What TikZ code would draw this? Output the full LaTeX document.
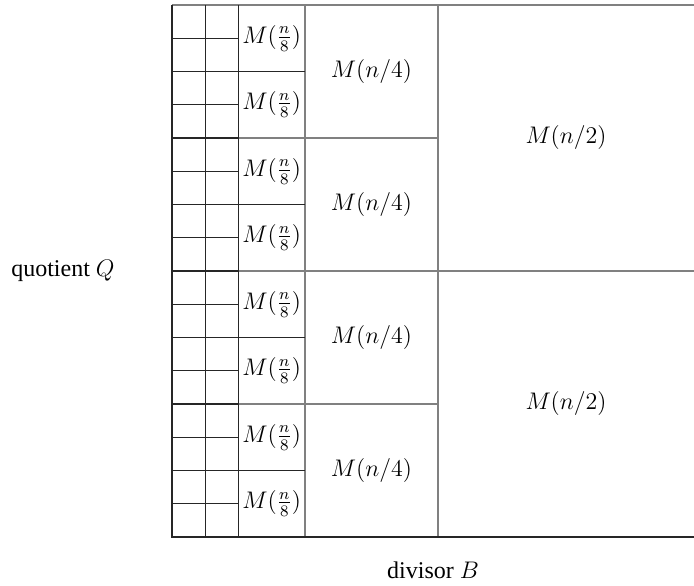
\documentclass[tikz,border=0pt]{standalone}
\usepackage{fontspec}
\setmainfont{Liberation Serif}
\usepackage{amsmath}
\usepackage{tikz}

\begin{document}
\begin{tikzpicture}[x=16.625pt, y=16.625pt, every node/.style={font=\large}]
        \useasboundingbox (-5.173, -1.444) rectangle (15.699, 16.150);
        % Big blocks
        \draw [gray, line width=0.8pt] (0, 16) -- (15.7, 16);
        \draw [gray, line width=0.8pt] (0, 8) -- (15.7, 8);
        \draw [gray, line width=0.8pt] (8, 0) -- (8, 16);
        \draw [gray, line width=0.8pt] (4, 0) -- (4, 16);
        \foreach \y in {4, 12} \draw [gray, line width=0.8pt] (0, \y) -- (8, \y);
        % Small blocks
        \foreach \x in {1, 2} \draw [black!85, line width=0.7pt] (\x, 0) -- (\x, 16);
        \foreach \y in {1, ..., 15} \draw [black!85, line width=0.7pt] (0, \y) -- (2, \y);
        \foreach \y in {2, 6, 10, 14} \draw [black!85, line width=0.7pt] (0, \y) -- (4, \y);
        % Axes
        \draw [black!85, line width=0.8pt] (0, 16) -- (0, 0) -- (15.7, 0);
        % Labels
        \foreach \y [count=\i] in {15, 13, ..., 1} \node [inner sep=0.5pt] (n8-\i) at (3, \y) {$M(\frac{n}{8})$};
        \foreach \y [count=\i] in {14, 10, 6, 2} \node (n4-\i) at (6, \y) {$M(n/4)$};
        \node (n2-1) at (11.85, 12) {$M(n/2)$};
        \node (n2-2) at (11.85, 4) {$M(n/2)$};
        \node (quotient) at (-3.28, 8) {quotient $Q$};
        \node (divisor) at (7.85, -0.99) {divisor $B$};
    \end{tikzpicture}
\end{document}
